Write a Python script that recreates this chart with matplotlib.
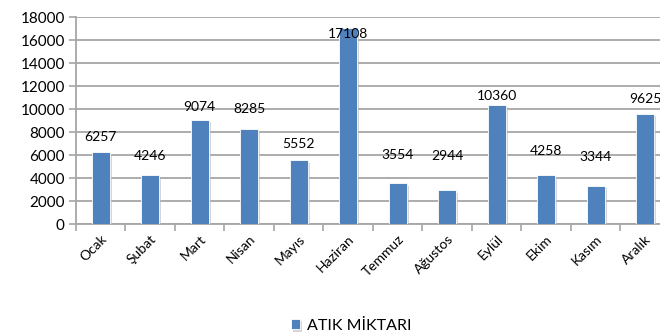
import matplotlib.pyplot as plt
import matplotlib.patheffects as pe
import numpy as np

plt.rcParams['font.family'] = ['Lato', 'DejaVu Sans']

aylar = ['Ocak', 'Şubat', 'Mart', 'Nisan', 'Mayıs', 'Haziran',
         'Temmuz', 'Ağustos', 'Eylül', 'Ekim', 'Kasım', 'Aralık']
atik = [6257, 4246, 9074, 8285, 5552, 17108,
        3554, 2944, 10360, 4258, 3344, 9625]
seri_adi = 'ATIK MİKTARI'

# how far each value label sits above its bar (pixels)
label_lift = [15, 19, 13, 20, 16, -6, 28, 34, 9, 24, 29, 15]

bar_color = '#4F81BD'
grid_color = '#A6A6A6'

fig = plt.figure(figsize=(6.6, 3.35), dpi=100)
ax = fig.add_axes([0.115, 0.3304, 0.9, 0.618])

x = np.arange(len(aylar))
bars = ax.bar(x, atik, width=0.36, color=bar_color, edgecolor='white',
              linewidth=0.6, zorder=3, label=seri_adi)
for b in bars:
    b.set_path_effects([pe.SimplePatchShadow(offset=(1.5, -1.5),
                                             shadow_rgbFace='#BBBBBB', alpha=0.6),
                        pe.Normal()])

for xi, v, lift in zip(x, atik, label_lift):
    ax.annotate(str(v), (xi, v), xytext=(0, lift), textcoords='offset pixels',
                ha='center', va='center', fontsize=10, color='black',
                zorder=5, annotation_clip=False)

ax.set_xlim(-0.5, len(aylar) - 0.5)
ax.set_ylim(0, 18000)
ax.set_yticks(np.arange(0, 18001, 2000))
ax.yaxis.grid(True, color=grid_color, linewidth=1.3, zorder=0)
ax.set_axisbelow(True)

# ticks between the categories on the x axis
ax.set_xticks(np.arange(-0.5, len(aylar), 1.0))
ax.set_xticklabels([])
ax.set_xticks(x, minor=True)
ax.set_xticklabels(aylar, minor=True, rotation=45, ha='right', va='top',
                   rotation_mode='anchor', fontsize=10)
ax.tick_params(axis='x', which='minor', length=0, pad=6)
ax.tick_params(axis='x', which='major', length=5, color=grid_color, width=1.2)
ax.tick_params(axis='y', length=5, color=grid_color, width=1.2, labelsize=11, pad=3)

for s in ['top', 'right']:
    ax.spines[s].set_visible(False)
for s in ['left', 'bottom']:
    ax.spines[s].set_color(grid_color)
    ax.spines[s].set_linewidth(1.3)

fig.legend(handles=[bars], labels=[seri_adi], loc='center',
           bbox_to_anchor=(351 / 660, 1 - 326 / 335), frameon=False,
           fontsize=11.5, handlelength=0.6, handleheight=0.6, handletextpad=0.4)

fig.savefig('out.png', dpi=100)
